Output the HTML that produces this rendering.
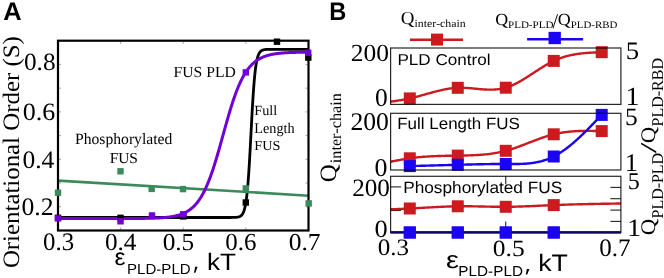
<!DOCTYPE html>
<html><head><meta charset="utf-8"><style>
html,body{margin:0;padding:0;background:#fff;}
svg{display:block;will-change:transform;}
text{font-kerning:none;text-rendering:geometricPrecision;}
</style></head><body>
<svg width="664" height="278" viewBox="0 0 664 278">
<rect width="664" height="278" fill="#fff"/>
<text transform="translate(3.37,19.60) scale(0.9963,1)" font-family='"Liberation Sans", sans-serif' font-size="25.582" font-weight="bold" fill="#000">A</text>
<text transform="translate(19.18,268.12) rotate(-90) scale(1.0536,1)" font-family='"Liberation Serif", serif' font-size="23.601" fill="#000">Orientational Order (S)</text>
<text transform="translate(23.94,69.55) scale(1.0229,1)" font-family='"Liberation Serif", serif' font-size="24.735" fill="#000">0.8</text>
<text transform="translate(22.81,119.55) scale(1.0471,1)" font-family='"Liberation Serif", serif' font-size="24.882" fill="#000">0.6</text>
<text transform="translate(22.43,168.34) scale(1.0160,1)" font-family='"Liberation Serif", serif' font-size="25.177" fill="#000">0.4</text>
<text transform="translate(21.52,214.64) scale(1.0198,1)" font-family='"Liberation Serif", serif' font-size="25.177" fill="#000">0.2</text>
<text transform="translate(43.05,250.34) scale(0.9889,1)" font-family='"Liberation Serif", serif' font-size="25.177" fill="#000">0.3</text>
<text transform="translate(104.94,250.15) scale(1.0267,1)" font-family='"Liberation Serif", serif' font-size="24.588" fill="#000">0.4</text>
<text transform="translate(162.64,250.16) scale(1.0424,1)" font-family='"Liberation Serif", serif' font-size="24.293" fill="#000">0.5</text>
<text transform="translate(225.25,250.15) scale(1.0149,1)" font-family='"Liberation Serif", serif' font-size="24.588" fill="#000">0.6</text>
<text transform="translate(288.63,250.16) scale(1.0507,1)" font-family='"Liberation Serif", serif' font-size="24.293" fill="#000">0.7</text>
<text transform="translate(114.56,265.07) scale(1.0493,1)" font-family='"Liberation Sans", sans-serif' font-size="23.547" fill="#000">ε</text>
<text transform="translate(127.06,274.20) scale(1.0369,1)" font-family='"Liberation Sans", sans-serif' font-size="14.535" fill="#000">PLD-PLD</text>
<polygon points="195.2,266.7 197.6,266.7 195.4,272.8 194.0,272.8" fill="#000"/>
<text transform="translate(206.94,269.80) scale(1.1022,1)" font-family='"Liberation Sans", sans-serif' font-size="23.737" fill="#000">kT</text>
<text transform="translate(173.55,76.85) scale(1.0125,1)" font-family='"Liberation Serif", serif' font-size="15.479" fill="#000">FUS PLD</text>
<text transform="translate(254.29,114.70) scale(1.0206,1)" font-family='"Liberation Serif", serif' font-size="13.980" fill="#000">Full</text>
<text transform="translate(254.29,132.90) scale(0.9584,1)" font-family='"Liberation Serif", serif' font-size="14.845" fill="#000">Length</text>
<text transform="translate(254.29,150.40) scale(1.0349,1)" font-family='"Liberation Serif", serif' font-size="13.744" fill="#000">FUS</text>
<text transform="translate(74.95,144.40) scale(0.9970,1)" font-family='"Liberation Serif", serif' font-size="15.710" fill="#000">Phosphorylated</text>
<text transform="translate(109.66,163.20) scale(1.0113,1)" font-family='"Liberation Serif", serif' font-size="15.254" fill="#000">FUS</text>
<line x1="120.63" y1="229.50" x2="120.63" y2="227.50" stroke="#888" stroke-width="0.80"/>
<line x1="120.63" y1="41.70" x2="120.63" y2="43.70" stroke="#888" stroke-width="0.80"/>
<line x1="183.25" y1="229.50" x2="183.25" y2="227.50" stroke="#888" stroke-width="0.80"/>
<line x1="183.25" y1="41.70" x2="183.25" y2="43.70" stroke="#888" stroke-width="0.80"/>
<line x1="245.87" y1="229.50" x2="245.87" y2="227.50" stroke="#888" stroke-width="0.80"/>
<line x1="245.87" y1="41.70" x2="245.87" y2="43.70" stroke="#888" stroke-width="0.80"/>
<line x1="59.00" y1="206.78" x2="61.00" y2="206.78" stroke="#888" stroke-width="0.80"/>
<line x1="307.50" y1="206.78" x2="305.50" y2="206.78" stroke="#888" stroke-width="0.80"/>
<line x1="59.00" y1="183.05" x2="61.00" y2="183.05" stroke="#888" stroke-width="0.80"/>
<line x1="307.50" y1="183.05" x2="305.50" y2="183.05" stroke="#888" stroke-width="0.80"/>
<line x1="59.00" y1="159.32" x2="61.00" y2="159.32" stroke="#888" stroke-width="0.80"/>
<line x1="307.50" y1="159.32" x2="305.50" y2="159.32" stroke="#888" stroke-width="0.80"/>
<line x1="59.00" y1="135.60" x2="61.00" y2="135.60" stroke="#888" stroke-width="0.80"/>
<line x1="307.50" y1="135.60" x2="305.50" y2="135.60" stroke="#888" stroke-width="0.80"/>
<line x1="59.00" y1="111.88" x2="61.00" y2="111.88" stroke="#888" stroke-width="0.80"/>
<line x1="307.50" y1="111.88" x2="305.50" y2="111.88" stroke="#888" stroke-width="0.80"/>
<line x1="59.00" y1="88.15" x2="61.00" y2="88.15" stroke="#888" stroke-width="0.80"/>
<line x1="307.50" y1="88.15" x2="305.50" y2="88.15" stroke="#888" stroke-width="0.80"/>
<line x1="59.00" y1="64.42" x2="61.00" y2="64.42" stroke="#888" stroke-width="0.80"/>
<line x1="307.50" y1="64.42" x2="305.50" y2="64.42" stroke="#888" stroke-width="0.80"/>
<path d="M58.00,217.50 L58.50,217.50 L59.00,217.50 L59.51,217.50 L60.01,217.50 L60.51,217.50 L61.01,217.50 L61.51,217.50 L62.02,217.50 L62.52,217.50 L63.02,217.50 L63.52,217.50 L64.02,217.50 L64.53,217.50 L65.03,217.50 L65.53,217.50 L66.03,217.50 L66.53,217.50 L67.04,217.50 L67.54,217.50 L68.04,217.50 L68.54,217.50 L69.04,217.50 L69.55,217.50 L70.05,217.50 L70.55,217.50 L71.05,217.50 L71.55,217.50 L72.06,217.50 L72.56,217.50 L73.06,217.50 L73.56,217.50 L74.06,217.50 L74.57,217.50 L75.07,217.50 L75.57,217.50 L76.07,217.50 L76.57,217.50 L77.08,217.50 L77.58,217.50 L78.08,217.50 L78.58,217.50 L79.08,217.50 L79.59,217.50 L80.09,217.50 L80.59,217.50 L81.09,217.50 L81.59,217.50 L82.10,217.50 L82.60,217.50 L83.10,217.50 L83.60,217.50 L84.10,217.50 L84.61,217.50 L85.11,217.50 L85.61,217.50 L86.11,217.50 L86.61,217.50 L87.12,217.50 L87.62,217.50 L88.12,217.50 L88.62,217.50 L89.12,217.50 L89.63,217.50 L90.13,217.50 L90.63,217.50 L91.13,217.50 L91.63,217.50 L92.14,217.50 L92.64,217.50 L93.14,217.50 L93.64,217.50 L94.14,217.50 L94.65,217.50 L95.15,217.50 L95.65,217.50 L96.15,217.50 L96.65,217.50 L97.16,217.50 L97.66,217.50 L98.16,217.50 L98.66,217.50 L99.16,217.50 L99.67,217.50 L100.17,217.50 L100.67,217.50 L101.17,217.50 L101.67,217.50 L102.18,217.50 L102.68,217.50 L103.18,217.50 L103.68,217.50 L104.18,217.50 L104.69,217.50 L105.19,217.50 L105.69,217.50 L106.19,217.50 L106.69,217.50 L107.20,217.50 L107.70,217.50 L108.20,217.50 L108.70,217.50 L109.20,217.50 L109.71,217.50 L110.21,217.50 L110.71,217.50 L111.21,217.50 L111.71,217.50 L112.22,217.50 L112.72,217.50 L113.22,217.50 L113.72,217.50 L114.22,217.50 L114.73,217.50 L115.23,217.50 L115.73,217.50 L116.23,217.50 L116.73,217.50 L117.24,217.50 L117.74,217.50 L118.24,217.50 L118.74,217.50 L119.24,217.50 L119.75,217.50 L120.25,217.50 L120.75,217.50 L121.25,217.50 L121.75,217.50 L122.26,217.50 L122.76,217.50 L123.26,217.50 L123.76,217.50 L124.26,217.50 L124.77,217.50 L125.27,217.50 L125.77,217.50 L126.27,217.50 L126.77,217.50 L127.28,217.50 L127.78,217.50 L128.28,217.50 L128.78,217.50 L129.28,217.50 L129.79,217.50 L130.29,217.50 L130.79,217.50 L131.29,217.50 L131.79,217.50 L132.30,217.50 L132.80,217.50 L133.30,217.50 L133.80,217.50 L134.30,217.50 L134.81,217.50 L135.31,217.50 L135.81,217.50 L136.31,217.50 L136.81,217.50 L137.32,217.50 L137.82,217.50 L138.32,217.50 L138.82,217.50 L139.32,217.50 L139.83,217.50 L140.33,217.50 L140.83,217.50 L141.33,217.50 L141.83,217.50 L142.34,217.50 L142.84,217.50 L143.34,217.50 L143.84,217.50 L144.34,217.50 L144.85,217.50 L145.35,217.50 L145.85,217.50 L146.35,217.50 L146.85,217.50 L147.36,217.50 L147.86,217.50 L148.36,217.50 L148.86,217.50 L149.36,217.50 L149.87,217.50 L150.37,217.50 L150.87,217.50 L151.37,217.50 L151.87,217.50 L152.38,217.50 L152.88,217.50 L153.38,217.50 L153.88,217.50 L154.38,217.50 L154.89,217.50 L155.39,217.50 L155.89,217.50 L156.39,217.50 L156.89,217.50 L157.40,217.50 L157.90,217.50 L158.40,217.50 L158.90,217.50 L159.40,217.50 L159.91,217.50 L160.41,217.50 L160.91,217.50 L161.41,217.50 L161.91,217.50 L162.42,217.50 L162.92,217.50 L163.42,217.50 L163.92,217.50 L164.42,217.50 L164.93,217.50 L165.43,217.50 L165.93,217.50 L166.43,217.50 L166.93,217.50 L167.44,217.50 L167.94,217.50 L168.44,217.50 L168.94,217.50 L169.44,217.50 L169.95,217.50 L170.45,217.50 L170.95,217.50 L171.45,217.50 L171.95,217.50 L172.46,217.50 L172.96,217.50 L173.46,217.50 L173.96,217.50 L174.46,217.50 L174.97,217.50 L175.47,217.50 L175.97,217.50 L176.47,217.50 L176.97,217.50 L177.48,217.50 L177.98,217.50 L178.48,217.50 L178.98,217.50 L179.48,217.50 L179.99,217.50 L180.49,217.50 L180.99,217.50 L181.49,217.50 L181.99,217.50 L182.50,217.50 L183.00,217.50 L183.50,217.50 L184.00,217.50 L184.51,217.50 L185.01,217.50 L185.51,217.50 L186.01,217.50 L186.51,217.50 L187.02,217.50 L187.52,217.50 L188.02,217.50 L188.52,217.50 L189.02,217.50 L189.53,217.50 L190.03,217.50 L190.53,217.50 L191.03,217.50 L191.53,217.50 L192.04,217.50 L192.54,217.50 L193.04,217.50 L193.54,217.50 L194.04,217.50 L194.55,217.50 L195.05,217.50 L195.55,217.50 L196.05,217.50 L196.55,217.50 L197.06,217.50 L197.56,217.50 L198.06,217.50 L198.56,217.50 L199.06,217.50 L199.57,217.50 L200.07,217.50 L200.57,217.50 L201.07,217.50 L201.57,217.50 L202.08,217.50 L202.58,217.50 L203.08,217.50 L203.58,217.50 L204.08,217.50 L204.59,217.50 L205.09,217.50 L205.59,217.50 L206.09,217.50 L206.59,217.50 L207.10,217.50 L207.60,217.50 L208.10,217.50 L208.60,217.50 L209.10,217.50 L209.61,217.50 L210.11,217.50 L210.61,217.50 L211.11,217.50 L211.61,217.50 L212.12,217.50 L212.62,217.50 L213.12,217.50 L213.62,217.50 L214.12,217.50 L214.63,217.50 L215.13,217.50 L215.63,217.50 L216.13,217.50 L216.63,217.50 L217.14,217.50 L217.64,217.50 L218.14,217.50 L218.64,217.50 L219.14,217.50 L219.65,217.50 L220.15,217.50 L220.65,217.50 L221.15,217.50 L221.65,217.50 L222.16,217.50 L222.66,217.50 L223.16,217.50 L223.66,217.50 L224.16,217.50 L224.67,217.50 L225.17,217.50 L225.67,217.50 L226.17,217.50 L226.67,217.50 L227.18,217.50 L227.68,217.50 L228.18,217.49 L228.68,217.49 L229.18,217.49 L229.69,217.49 L230.19,217.49 L230.69,217.48 L231.19,217.48 L231.69,217.47 L232.20,217.47 L232.70,217.46 L233.20,217.45 L233.70,217.44 L234.20,217.42 L234.71,217.40 L235.21,217.37 L235.71,217.34 L236.21,217.30 L236.71,217.25 L237.22,217.18 L237.72,217.10 L238.22,217.00 L238.72,216.87 L239.22,216.71 L239.73,216.51 L240.23,216.25 L240.73,215.94 L241.23,215.54 L241.73,215.04 L242.24,214.43 L242.74,213.66 L243.24,212.70 L243.74,211.51 L244.24,210.05 L244.75,208.24 L245.25,206.03 L245.75,203.34 L246.25,200.08 L246.75,196.18 L247.26,191.56 L247.76,186.15 L248.26,179.92 L248.76,172.84 L249.26,164.97 L249.77,156.39 L250.27,147.27 L250.77,137.80 L251.27,128.22 L251.77,118.77 L252.28,109.68 L252.78,101.16 L253.28,93.35 L253.78,86.34 L254.28,80.17 L254.79,74.83 L255.29,70.27 L255.79,66.43 L256.29,63.22 L256.79,60.57 L257.30,58.40 L257.80,56.62 L258.30,55.18 L258.80,54.01 L259.30,53.07 L259.81,52.32 L260.31,51.71 L260.81,51.22 L261.31,50.84 L261.81,50.52 L262.32,50.28 L262.82,50.08 L263.32,49.92 L263.82,49.79 L264.32,49.69 L264.83,49.61 L265.33,49.55 L265.83,49.50 L266.33,49.46 L266.83,49.43 L267.34,49.40 L267.84,49.38 L268.34,49.36 L268.84,49.35 L269.34,49.34 L269.85,49.33 L270.35,49.33 L270.85,49.32 L271.35,49.32 L271.85,49.31 L272.36,49.31 L272.86,49.31 L273.36,49.31 L273.86,49.31 L274.36,49.30 L274.87,49.30 L275.37,49.30 L275.87,49.30 L276.37,49.30 L276.87,49.30 L277.38,49.30 L277.88,49.30 L278.38,49.30 L278.88,49.30 L279.38,49.30 L279.89,49.30 L280.39,49.30 L280.89,49.30 L281.39,49.30 L281.89,49.30 L282.40,49.30 L282.90,49.30 L283.40,49.30 L283.90,49.30 L284.40,49.30 L284.91,49.30 L285.41,49.30 L285.91,49.30 L286.41,49.30 L286.91,49.30 L287.42,49.30 L287.92,49.30 L288.42,49.30 L288.92,49.30 L289.42,49.30 L289.93,49.30 L290.43,49.30 L290.93,49.30 L291.43,49.30 L291.93,49.30 L292.44,49.30 L292.94,49.30 L293.44,49.30 L293.94,49.30 L294.44,49.30 L294.95,49.30 L295.45,49.30 L295.95,49.30 L296.45,49.30 L296.95,49.30 L297.46,49.30 L297.96,49.30 L298.46,49.30 L298.96,49.30 L299.46,49.30 L299.97,49.30 L300.47,49.30 L300.97,49.30 L301.47,49.30 L301.97,49.30 L302.48,49.30 L302.98,49.30 L303.48,49.30 L303.98,49.30 L304.48,49.30 L304.99,49.30 L305.49,49.30 L305.99,49.30 L306.49,49.30 L306.99,49.30 L307.50,49.30 L308.00,49.30 L308.50,49.30" fill="none" stroke="#000" stroke-width="2.80" stroke-linejoin="round" stroke-linecap="butt"/>
<path d="M58.00,180.60 L308.50,195.70" fill="none" stroke="#3b8a5a" stroke-width="2.60" stroke-linejoin="round" stroke-linecap="butt"/>
<path d="M58.00,218.57 L58.50,218.57 L59.00,218.57 L59.51,218.57 L60.01,218.57 L60.51,218.57 L61.01,218.57 L61.51,218.57 L62.02,218.57 L62.52,218.57 L63.02,218.57 L63.52,218.57 L64.02,218.57 L64.53,218.57 L65.03,218.57 L65.53,218.57 L66.03,218.57 L66.53,218.57 L67.04,218.57 L67.54,218.57 L68.04,218.57 L68.54,218.57 L69.04,218.57 L69.55,218.57 L70.05,218.57 L70.55,218.57 L71.05,218.57 L71.55,218.57 L72.06,218.57 L72.56,218.57 L73.06,218.57 L73.56,218.57 L74.06,218.57 L74.57,218.57 L75.07,218.57 L75.57,218.57 L76.07,218.57 L76.57,218.57 L77.08,218.57 L77.58,218.57 L78.08,218.57 L78.58,218.57 L79.08,218.57 L79.59,218.57 L80.09,218.57 L80.59,218.57 L81.09,218.57 L81.59,218.57 L82.10,218.57 L82.60,218.57 L83.10,218.57 L83.60,218.57 L84.10,218.57 L84.61,218.57 L85.11,218.57 L85.61,218.57 L86.11,218.57 L86.61,218.57 L87.12,218.57 L87.62,218.57 L88.12,218.57 L88.62,218.57 L89.12,218.57 L89.63,218.57 L90.13,218.57 L90.63,218.57 L91.13,218.57 L91.63,218.57 L92.14,218.57 L92.64,218.57 L93.14,218.57 L93.64,218.57 L94.14,218.57 L94.65,218.57 L95.15,218.57 L95.65,218.57 L96.15,218.57 L96.65,218.57 L97.16,218.57 L97.66,218.57 L98.16,218.57 L98.66,218.57 L99.16,218.57 L99.67,218.57 L100.17,218.57 L100.67,218.57 L101.17,218.57 L101.67,218.57 L102.18,218.57 L102.68,218.57 L103.18,218.56 L103.68,218.56 L104.18,218.56 L104.69,218.56 L105.19,218.56 L105.69,218.56 L106.19,218.56 L106.69,218.56 L107.20,218.56 L107.70,218.56 L108.20,218.56 L108.70,218.56 L109.20,218.56 L109.71,218.56 L110.21,218.56 L110.71,218.56 L111.21,218.56 L111.71,218.56 L112.22,218.56 L112.72,218.56 L113.22,218.56 L113.72,218.56 L114.22,218.56 L114.73,218.56 L115.23,218.56 L115.73,218.56 L116.23,218.55 L116.73,218.55 L117.24,218.55 L117.74,218.55 L118.24,218.55 L118.74,218.55 L119.24,218.55 L119.75,218.55 L120.25,218.55 L120.75,218.55 L121.25,218.55 L121.75,218.54 L122.26,218.54 L122.76,218.54 L123.26,218.54 L123.76,218.54 L124.26,218.54 L124.77,218.54 L125.27,218.54 L125.77,218.53 L126.27,218.53 L126.77,218.53 L127.28,218.53 L127.78,218.53 L128.28,218.53 L128.78,218.52 L129.28,218.52 L129.79,218.52 L130.29,218.52 L130.79,218.51 L131.29,218.51 L131.79,218.51 L132.30,218.51 L132.80,218.50 L133.30,218.50 L133.80,218.50 L134.30,218.49 L134.81,218.49 L135.31,218.49 L135.81,218.48 L136.31,218.48 L136.81,218.48 L137.32,218.47 L137.82,218.47 L138.32,218.46 L138.82,218.46 L139.32,218.45 L139.83,218.45 L140.33,218.44 L140.83,218.44 L141.33,218.43 L141.83,218.43 L142.34,218.42 L142.84,218.41 L143.34,218.41 L143.84,218.40 L144.34,218.39 L144.85,218.38 L145.35,218.37 L145.85,218.37 L146.35,218.36 L146.85,218.35 L147.36,218.34 L147.86,218.33 L148.36,218.32 L148.86,218.30 L149.36,218.29 L149.87,218.28 L150.37,218.27 L150.87,218.25 L151.37,218.24 L151.87,218.22 L152.38,218.21 L152.88,218.19 L153.38,218.18 L153.88,218.16 L154.38,218.14 L154.89,218.12 L155.39,218.10 L155.89,218.08 L156.39,218.06 L156.89,218.04 L157.40,218.01 L157.90,217.99 L158.40,217.96 L158.90,217.94 L159.40,217.91 L159.91,217.88 L160.41,217.85 L160.91,217.82 L161.41,217.78 L161.91,217.75 L162.42,217.71 L162.92,217.67 L163.42,217.63 L163.92,217.59 L164.42,217.55 L164.93,217.50 L165.43,217.45 L165.93,217.41 L166.43,217.35 L166.93,217.30 L167.44,217.24 L167.94,217.19 L168.44,217.12 L168.94,217.06 L169.44,216.99 L169.95,216.92 L170.45,216.85 L170.95,216.78 L171.45,216.70 L171.95,216.61 L172.46,216.53 L172.96,216.44 L173.46,216.34 L173.96,216.25 L174.46,216.14 L174.97,216.04 L175.47,215.93 L175.97,215.81 L176.47,215.69 L176.97,215.56 L177.48,215.43 L177.98,215.30 L178.48,215.15 L178.98,215.00 L179.48,214.85 L179.99,214.69 L180.49,214.52 L180.99,214.34 L181.49,214.16 L181.99,213.97 L182.50,213.77 L183.00,213.56 L183.50,213.34 L184.00,213.12 L184.51,212.88 L185.01,212.64 L185.51,212.38 L186.01,212.12 L186.51,211.84 L187.02,211.55 L187.52,211.26 L188.02,210.94 L188.52,210.62 L189.02,210.28 L189.53,209.93 L190.03,209.57 L190.53,209.19 L191.03,208.80 L191.53,208.39 L192.04,207.96 L192.54,207.52 L193.04,207.06 L193.54,206.59 L194.04,206.09 L194.55,205.58 L195.05,205.05 L195.55,204.50 L196.05,203.92 L196.55,203.33 L197.06,202.72 L197.56,202.08 L198.06,201.42 L198.56,200.74 L199.06,200.03 L199.57,199.30 L200.07,198.54 L200.57,197.76 L201.07,196.96 L201.57,196.12 L202.08,195.26 L202.58,194.37 L203.08,193.46 L203.58,192.51 L204.08,191.54 L204.59,190.54 L205.09,189.51 L205.59,188.45 L206.09,187.35 L206.59,186.23 L207.10,185.08 L207.60,183.90 L208.10,182.69 L208.60,181.44 L209.10,180.17 L209.61,178.87 L210.11,177.53 L210.61,176.17 L211.11,174.78 L211.61,173.35 L212.12,171.90 L212.62,170.42 L213.12,168.92 L213.62,167.39 L214.12,165.83 L214.63,164.24 L215.13,162.63 L215.63,161.00 L216.13,159.35 L216.63,157.67 L217.14,155.98 L217.64,154.27 L218.14,152.54 L218.64,150.79 L219.14,149.03 L219.65,147.26 L220.15,145.48 L220.65,143.68 L221.15,141.88 L221.65,140.08 L222.16,138.27 L222.66,136.45 L223.16,134.64 L223.66,132.82 L224.16,131.01 L224.67,129.20 L225.17,127.40 L225.67,125.60 L226.17,123.82 L226.67,122.04 L227.18,120.28 L227.68,118.53 L228.18,116.80 L228.68,115.08 L229.18,113.38 L229.69,111.70 L230.19,110.04 L230.69,108.40 L231.19,106.79 L231.69,105.20 L232.20,103.64 L232.70,102.10 L233.20,100.58 L233.70,99.10 L234.20,97.64 L234.71,96.21 L235.21,94.81 L235.71,93.44 L236.21,92.10 L236.71,90.79 L237.22,89.51 L237.72,88.26 L238.22,87.04 L238.72,85.85 L239.22,84.69 L239.73,83.56 L240.23,82.46 L240.73,81.39 L241.23,80.35 L241.73,79.34 L242.24,78.36 L242.74,77.41 L243.24,76.49 L243.74,75.59 L244.24,74.73 L244.75,73.89 L245.25,73.07 L245.75,72.29 L246.25,71.52 L246.75,70.79 L247.26,70.07 L247.76,69.39 L248.26,68.72 L248.76,68.08 L249.26,67.46 L249.77,66.86 L250.27,66.28 L250.77,65.73 L251.27,65.19 L251.77,64.67 L252.28,64.17 L252.78,63.69 L253.28,63.23 L253.78,62.78 L254.28,62.35 L254.79,61.94 L255.29,61.54 L255.79,61.16 L256.29,60.79 L256.79,60.44 L257.30,60.10 L257.80,59.77 L258.30,59.46 L258.80,59.16 L259.30,58.87 L259.81,58.59 L260.31,58.32 L260.81,58.06 L261.31,57.82 L261.81,57.58 L262.32,57.35 L262.82,57.13 L263.32,56.92 L263.82,56.72 L264.32,56.53 L264.83,56.34 L265.33,56.17 L265.83,56.00 L266.33,55.83 L266.83,55.67 L267.34,55.52 L267.84,55.38 L268.34,55.24 L268.84,55.11 L269.34,54.98 L269.85,54.86 L270.35,54.74 L270.85,54.63 L271.35,54.52 L271.85,54.42 L272.36,54.32 L272.86,54.22 L273.36,54.13 L273.86,54.05 L274.36,53.96 L274.87,53.88 L275.37,53.81 L275.87,53.73 L276.37,53.66 L276.87,53.60 L277.38,53.53 L277.88,53.47 L278.38,53.41 L278.88,53.35 L279.38,53.30 L279.89,53.25 L280.39,53.20 L280.89,53.15 L281.39,53.10 L281.89,53.06 L282.40,53.02 L282.90,52.98 L283.40,52.94 L283.90,52.90 L284.40,52.87 L284.91,52.83 L285.41,52.80 L285.91,52.77 L286.41,52.74 L286.91,52.71 L287.42,52.68 L287.92,52.66 L288.42,52.63 L288.92,52.61 L289.42,52.59 L289.93,52.56 L290.43,52.54 L290.93,52.52 L291.43,52.50 L291.93,52.49 L292.44,52.47 L292.94,52.45 L293.44,52.43 L293.94,52.42 L294.44,52.40 L294.95,52.39 L295.45,52.38 L295.95,52.36 L296.45,52.35 L296.95,52.34 L297.46,52.33 L297.96,52.32 L298.46,52.31 L298.96,52.30 L299.46,52.29 L299.97,52.28 L300.47,52.27 L300.97,52.26 L301.47,52.25 L301.97,52.24 L302.48,52.24 L302.98,52.23 L303.48,52.22 L303.98,52.22 L304.48,52.21 L304.99,52.20 L305.49,52.20 L305.99,52.19 L306.49,52.19 L306.99,52.18 L307.50,52.18 L308.00,52.17 L308.50,52.17" fill="none" stroke="#7000d6" stroke-width="3.00" stroke-linejoin="round" stroke-linecap="butt"/>
<rect x="58.00" y="40.70" width="250.50" height="189.80" fill="none" stroke="#000" stroke-width="2.2"/>
<rect x="54.80" y="214.60" width="6.40" height="6.40" fill="#000"/>
<rect x="117.30" y="214.65" width="6.40" height="6.40" fill="#000"/>
<rect x="180.20" y="213.20" width="6.40" height="6.40" fill="#000"/>
<rect x="242.60" y="199.30" width="6.40" height="6.40" fill="#000"/>
<rect x="273.80" y="38.50" width="6.40" height="6.40" fill="#000"/>
<rect x="305.10" y="54.40" width="6.40" height="6.40" fill="#000"/>
<rect x="54.80" y="215.20" width="6.40" height="6.40" fill="#7000d6"/>
<rect x="117.30" y="218.10" width="6.40" height="6.40" fill="#7000d6"/>
<rect x="148.80" y="212.30" width="6.40" height="6.40" fill="#7000d6"/>
<rect x="180.00" y="211.10" width="6.40" height="6.40" fill="#7000d6"/>
<rect x="242.60" y="69.20" width="6.40" height="6.40" fill="#7000d6"/>
<rect x="305.00" y="49.60" width="6.40" height="6.40" fill="#7000d6"/>
<rect x="54.80" y="189.50" width="6.40" height="6.40" fill="#3b8a5a"/>
<rect x="117.30" y="168.10" width="6.40" height="6.40" fill="#3b8a5a"/>
<rect x="148.50" y="185.70" width="6.40" height="6.40" fill="#3b8a5a"/>
<rect x="179.80" y="185.90" width="6.40" height="6.40" fill="#3b8a5a"/>
<rect x="242.60" y="185.20" width="6.40" height="6.40" fill="#3b8a5a"/>
<rect x="305.50" y="200.20" width="6.40" height="6.40" fill="#3b8a5a"/>
<text transform="translate(329.22,19.60) scale(0.9230,1)" font-family='"Liberation Sans", sans-serif' font-size="25.582" font-weight="bold" fill="#000">B</text>
<text transform="translate(400.72,23.93) scale(1.0357,1)" font-family='"Liberation Serif", serif' font-size="18.320" fill="#000">Q</text>
<text transform="translate(414.55,26.89) scale(1.0787,1)" font-family='"Liberation Serif", serif' font-size="10.944" fill="#000">inter-chain</text>
<line x1="409.90" y1="39.70" x2="463.00" y2="39.70" stroke="#cc1a1f" stroke-width="2.40"/>
<rect x="431.00" y="33.60" width="12.00" height="12.00" fill="#cc1a1f"/>
<text transform="translate(495.16,24.97) scale(1.0626,1)" font-family='"Liberation Serif", serif' font-size="16.864" fill="#000">Q</text>
<text transform="translate(507.98,28.18) scale(1.1197,1)" font-family='"Liberation Serif", serif' font-size="9.897" fill="#000">PLD-PLD</text>
<text transform="translate(552.60,28.00) scale(0.9459,1)" font-family='"Liberation Serif", serif' font-size="20.928" fill="#000">/</text>
<text transform="translate(557.87,24.97) scale(1.0626,1)" font-family='"Liberation Serif", serif' font-size="16.864" fill="#000">Q</text>
<text transform="translate(570.69,28.17) scale(1.1033,1)" font-family='"Liberation Serif", serif' font-size="9.883" fill="#000">PLD-RBD</text>
<line x1="527.10" y1="39.30" x2="583.10" y2="39.30" stroke="#1a04f3" stroke-width="2.40"/>
<rect x="548.55" y="31.85" width="12.30" height="12.30" fill="#1a04f3"/>
<line x1="390.60" y1="186.90" x2="401.10" y2="186.90" stroke="#222" stroke-width="1.10"/>
<line x1="390.60" y1="210.50" x2="401.10" y2="210.50" stroke="#222" stroke-width="1.10"/>
<line x1="610.40" y1="187.40" x2="620.90" y2="187.40" stroke="#222" stroke-width="1.10"/>
<line x1="610.40" y1="198.70" x2="620.90" y2="198.70" stroke="#222" stroke-width="1.10"/>
<line x1="610.40" y1="210.10" x2="620.90" y2="210.10" stroke="#222" stroke-width="1.10"/>
<line x1="610.40" y1="221.40" x2="620.90" y2="221.40" stroke="#222" stroke-width="1.10"/>
<line x1="505.75" y1="176.30" x2="505.75" y2="184.30" stroke="#222" stroke-width="1.10"/>
<line x1="505.75" y1="232.00" x2="505.75" y2="221.50" stroke="#222" stroke-width="1.10"/>
<text transform="translate(350.78,60.76) scale(1.0349,1)" font-family='"Liberation Serif", serif' font-size="24.600" fill="#000">200</text>
<text transform="translate(375.03,106.45) scale(0.9997,1)" font-family='"Liberation Serif", serif' font-size="25.489" fill="#000">0</text>
<text transform="translate(350.47,130.45) scale(1.0071,1)" font-family='"Liberation Serif", serif' font-size="25.489" fill="#000">200</text>
<text transform="translate(374.41,176.15) scale(1.0124,1)" font-family='"Liberation Serif", serif' font-size="25.637" fill="#000">0</text>
<text transform="translate(352.19,196.46) scale(1.0113,1)" font-family='"Liberation Serif", serif' font-size="24.896" fill="#000">200</text>
<text transform="translate(374.39,237.16) scale(1.0678,1)" font-family='"Liberation Serif", serif' font-size="24.748" fill="#000">0</text>
<text transform="translate(625.74,59.45) scale(1.0669,1)" font-family='"Liberation Serif", serif' font-size="25.130" fill="#000">5</text>
<text transform="translate(625.45,105.20) scale(1.0622,1)" font-family='"Liberation Serif", serif' font-size="26.206" fill="#000">1</text>
<text transform="translate(625.01,124.96) scale(1.0298,1)" font-family='"Liberation Serif", serif' font-size="24.829" fill="#000">5</text>
<text transform="translate(624.78,170.70) scale(1.0380,1)" font-family='"Liberation Serif", serif' font-size="25.449" fill="#000">1</text>
<text transform="translate(627.70,189.46) scale(0.9939,1)" font-family='"Liberation Serif", serif' font-size="24.227" fill="#000">5</text>
<text transform="translate(627.28,235.70) scale(1.1091,1)" font-family='"Liberation Serif", serif' font-size="24.843" fill="#000">1</text>
<text transform="translate(377.65,255.47) scale(1.0641,1)" font-family='"Liberation Serif", serif' font-size="23.557" fill="#000">0.3</text>
<text transform="translate(492.83,255.77) scale(1.0959,1)" font-family='"Liberation Serif", serif' font-size="23.263" fill="#000">0.5</text>
<text transform="translate(599.15,256.14) scale(0.9880,1)" font-family='"Liberation Serif", serif' font-size="25.324" fill="#000">0.7</text>
<text transform="translate(446.01,268.06) scale(1.1962,1)" font-family='"Liberation Sans", sans-serif' font-size="24.277" fill="#000">ε</text>
<text transform="translate(458.34,276.10) scale(1.0644,1)" font-family='"Liberation Sans", sans-serif' font-size="14.390" fill="#000">PLD-PLD</text>
<polygon points="526.9,268.9 529.4,268.9 527.2,274.4 525.8,274.4" fill="#000"/>
<text transform="translate(538.20,271.40) scale(1.1205,1)" font-family='"Liberation Sans", sans-serif' font-size="23.875" fill="#000">kT</text>
<text transform="translate(335.90,182.32) rotate(-90) scale(1.0611,1)" font-family='"Liberation Serif", serif' font-size="23.416" fill="#000">Q</text>
<text transform="translate(341.44,163.14) rotate(-90) scale(1.0047,1)" font-family='"Liberation Serif", serif' font-size="16.060" fill="#000">inter-chain</text>
<text transform="translate(654.54,235.14) rotate(-90) scale(1.1033,1)" font-family='"Liberation Serif", serif' font-size="20.747" fill="#000">Q</text>
<text transform="translate(663.17,218.46) rotate(-90) scale(0.9702,1)" font-family='"Liberation Serif", serif' font-size="16.445" fill="#000">PLD-PLD</text>
<text transform="translate(656.48,153.20) rotate(-90) scale(1.7221,1)" font-family='"Liberation Serif", serif' font-size="22.573" fill="#000">/</text>
<text transform="translate(654.54,143.33) rotate(-90) scale(1.0960,1)" font-family='"Liberation Serif", serif' font-size="20.747" fill="#000">Q</text>
<text transform="translate(663.15,126.46) rotate(-90) scale(0.9751,1)" font-family='"Liberation Serif", serif' font-size="16.420" fill="#000">PLD-RBD</text>
<text transform="translate(397.40,64.80) scale(1.0870,1)" font-family='"Liberation Sans", sans-serif' font-size="15.733" fill="#000">PLD Control</text>
<text transform="translate(397.21,128.80) scale(1.0434,1)" font-family='"Liberation Sans", sans-serif' font-size="16.285" fill="#000">Full Length FUS</text>
<text transform="translate(403.18,192.70) scale(1.0506,1)" font-family='"Liberation Sans", sans-serif' font-size="16.423" fill="#000">Phosphorylated FUS</text>
<path d="M390.60,101.70 L391.66,101.54 L392.72,101.39 L393.78,101.23 L394.84,101.07 L395.90,100.91 L396.97,100.74 L398.03,100.58 L399.09,100.41 L400.15,100.23 L401.21,100.06 L402.27,99.87 L403.33,99.68 L404.39,99.49 L405.45,99.29 L406.51,99.08 L407.57,98.87 L408.63,98.65 L409.70,98.42 L410.76,98.18 L411.82,97.94 L412.88,97.69 L413.94,97.43 L415.00,97.16 L416.06,96.89 L417.12,96.61 L418.18,96.33 L419.24,96.04 L420.30,95.75 L421.36,95.46 L422.43,95.16 L423.49,94.87 L424.55,94.57 L425.61,94.27 L426.67,93.97 L427.73,93.68 L428.79,93.38 L429.85,93.08 L430.91,92.79 L431.97,92.50 L433.03,92.21 L434.09,91.93 L435.16,91.65 L436.22,91.37 L437.28,91.11 L438.34,90.84 L439.40,90.59 L440.46,90.34 L441.52,90.10 L442.58,89.87 L443.64,89.64 L444.70,89.43 L445.76,89.23 L446.82,89.03 L447.89,88.85 L448.95,88.68 L450.01,88.52 L451.07,88.38 L452.13,88.25 L453.19,88.13 L454.25,88.03 L455.31,87.94 L456.37,87.87 L457.43,87.81 L458.49,87.78 L459.55,87.75 L460.62,87.75 L461.68,87.76 L462.74,87.78 L463.80,87.81 L464.86,87.85 L465.92,87.91 L466.98,87.97 L468.04,88.05 L469.10,88.13 L470.16,88.21 L471.22,88.30 L472.29,88.40 L473.35,88.50 L474.41,88.60 L475.47,88.70 L476.53,88.80 L477.59,88.90 L478.65,89.00 L479.71,89.10 L480.77,89.19 L481.83,89.28 L482.89,89.36 L483.95,89.43 L485.02,89.50 L486.08,89.55 L487.14,89.60 L488.20,89.64 L489.26,89.66 L490.32,89.67 L491.38,89.67 L492.44,89.65 L493.50,89.61 L494.56,89.56 L495.62,89.49 L496.68,89.40 L497.75,89.29 L498.81,89.16 L499.87,89.00 L500.93,88.83 L501.99,88.63 L503.05,88.40 L504.11,88.15 L505.17,87.86 L506.23,87.56 L507.29,87.22 L508.35,86.85 L509.41,86.46 L510.48,86.05 L511.54,85.61 L512.60,85.14 L513.66,84.66 L514.72,84.15 L515.78,83.62 L516.84,83.08 L517.90,82.52 L518.96,81.94 L520.02,81.35 L521.08,80.74 L522.14,80.12 L523.21,79.48 L524.27,78.84 L525.33,78.18 L526.39,77.52 L527.45,76.85 L528.51,76.17 L529.57,75.49 L530.63,74.80 L531.69,74.11 L532.75,73.42 L533.81,72.73 L534.88,72.03 L535.94,71.34 L537.00,70.65 L538.06,69.96 L539.12,69.28 L540.18,68.60 L541.24,67.93 L542.30,67.27 L543.36,66.61 L544.42,65.97 L545.48,65.33 L546.54,64.71 L547.61,64.10 L548.67,63.51 L549.73,62.93 L550.79,62.37 L551.85,61.82 L552.91,61.29 L553.97,60.79 L555.03,60.30 L556.09,59.83 L557.15,59.39 L558.21,58.96 L559.27,58.55 L560.34,58.16 L561.40,57.78 L562.46,57.42 L563.52,57.08 L564.58,56.76 L565.64,56.45 L566.70,56.16 L567.76,55.88 L568.82,55.62 L569.88,55.37 L570.94,55.14 L572.00,54.92 L573.07,54.71 L574.13,54.51 L575.19,54.32 L576.25,54.15 L577.31,53.99 L578.37,53.83 L579.43,53.69 L580.49,53.56 L581.55,53.43 L582.61,53.32 L583.67,53.21 L584.73,53.11 L585.80,53.02 L586.86,52.94 L587.92,52.86 L588.98,52.78 L590.04,52.72 L591.10,52.65 L592.16,52.59 L593.22,52.54 L594.28,52.49 L595.34,52.44 L596.40,52.40 L597.46,52.36 L598.53,52.32 L599.59,52.28 L600.65,52.24 L601.71,52.20" fill="none" stroke="#cc1a1f" stroke-width="2.40" stroke-linejoin="round" stroke-linecap="butt"/>
<rect x="403.79" y="92.40" width="12.00" height="12.00" fill="#cc1a1f"/>
<rect x="451.77" y="81.80" width="12.00" height="12.00" fill="#cc1a1f"/>
<rect x="499.75" y="81.70" width="12.00" height="12.00" fill="#cc1a1f"/>
<rect x="547.73" y="54.90" width="12.00" height="12.00" fill="#cc1a1f"/>
<rect x="595.71" y="46.20" width="12.00" height="12.00" fill="#cc1a1f"/>
<path d="M390.60,161.70 L391.66,161.49 L392.72,161.29 L393.78,161.08 L394.84,160.88 L395.90,160.67 L396.97,160.47 L398.03,160.27 L399.09,160.08 L400.15,159.88 L401.21,159.69 L402.27,159.50 L403.33,159.32 L404.39,159.14 L405.45,158.97 L406.51,158.79 L407.57,158.63 L408.63,158.47 L409.70,158.31 L410.76,158.17 L411.82,158.02 L412.88,157.89 L413.94,157.76 L415.00,157.63 L416.06,157.51 L417.12,157.40 L418.18,157.29 L419.24,157.18 L420.30,157.08 L421.36,156.99 L422.43,156.90 L423.49,156.81 L424.55,156.73 L425.61,156.65 L426.67,156.58 L427.73,156.51 L428.79,156.45 L429.85,156.38 L430.91,156.33 L431.97,156.27 L433.03,156.22 L434.09,156.17 L435.16,156.13 L436.22,156.08 L437.28,156.04 L438.34,156.01 L439.40,155.97 L440.46,155.94 L441.52,155.91 L442.58,155.88 L443.64,155.85 L444.70,155.83 L445.76,155.80 L446.82,155.78 L447.89,155.76 L448.95,155.74 L450.01,155.72 L451.07,155.70 L452.13,155.68 L453.19,155.67 L454.25,155.65 L455.31,155.64 L456.37,155.62 L457.43,155.60 L458.49,155.59 L459.55,155.57 L460.62,155.56 L461.68,155.54 L462.74,155.52 L463.80,155.50 L464.86,155.48 L465.92,155.46 L466.98,155.43 L468.04,155.40 L469.10,155.37 L470.16,155.34 L471.22,155.30 L472.29,155.26 L473.35,155.22 L474.41,155.17 L475.47,155.12 L476.53,155.06 L477.59,155.00 L478.65,154.94 L479.71,154.87 L480.77,154.79 L481.83,154.71 L482.89,154.62 L483.95,154.53 L485.02,154.43 L486.08,154.32 L487.14,154.21 L488.20,154.09 L489.26,153.96 L490.32,153.82 L491.38,153.68 L492.44,153.52 L493.50,153.36 L494.56,153.19 L495.62,153.01 L496.68,152.82 L497.75,152.63 L498.81,152.42 L499.87,152.20 L500.93,151.97 L501.99,151.73 L503.05,151.49 L504.11,151.22 L505.17,150.95 L506.23,150.67 L507.29,150.38 L508.35,150.07 L509.41,149.75 L510.48,149.43 L511.54,149.09 L512.60,148.75 L513.66,148.40 L514.72,148.04 L515.78,147.67 L516.84,147.30 L517.90,146.92 L518.96,146.53 L520.02,146.14 L521.08,145.75 L522.14,145.35 L523.21,144.94 L524.27,144.54 L525.33,144.13 L526.39,143.72 L527.45,143.31 L528.51,142.90 L529.57,142.49 L530.63,142.08 L531.69,141.67 L532.75,141.26 L533.81,140.86 L534.88,140.45 L535.94,140.05 L537.00,139.66 L538.06,139.26 L539.12,138.88 L540.18,138.49 L541.24,138.12 L542.30,137.75 L543.36,137.38 L544.42,137.03 L545.48,136.68 L546.54,136.34 L547.61,136.01 L548.67,135.68 L549.73,135.37 L550.79,135.07 L551.85,134.78 L552.91,134.51 L553.97,134.24 L555.03,133.99 L556.09,133.75 L557.15,133.52 L558.21,133.30 L559.27,133.10 L560.34,132.90 L561.40,132.72 L562.46,132.55 L563.52,132.39 L564.58,132.23 L565.64,132.09 L566.70,131.96 L567.76,131.84 L568.82,131.72 L569.88,131.62 L570.94,131.52 L572.00,131.43 L573.07,131.35 L574.13,131.28 L575.19,131.21 L576.25,131.15 L577.31,131.10 L578.37,131.05 L579.43,131.01 L580.49,130.98 L581.55,130.95 L582.61,130.93 L583.67,130.91 L584.73,130.89 L585.80,130.89 L586.86,130.88 L587.92,130.88 L588.98,130.88 L590.04,130.89 L591.10,130.90 L592.16,130.91 L593.22,130.93 L594.28,130.94 L595.34,130.96 L596.40,130.98 L597.46,131.00 L598.53,131.03 L599.59,131.05 L600.65,131.08 L601.71,131.10" fill="none" stroke="#cc1a1f" stroke-width="2.40" stroke-linejoin="round" stroke-linecap="butt"/>
<rect x="403.79" y="152.30" width="12.00" height="12.00" fill="#cc1a1f"/>
<rect x="451.77" y="149.60" width="12.00" height="12.00" fill="#cc1a1f"/>
<rect x="499.75" y="144.80" width="12.00" height="12.00" fill="#cc1a1f"/>
<rect x="547.73" y="128.30" width="12.00" height="12.00" fill="#cc1a1f"/>
<rect x="595.71" y="125.10" width="12.00" height="12.00" fill="#cc1a1f"/>
<path d="M409.79,166.10 L410.76,166.07 L411.72,166.05 L412.68,166.02 L413.65,166.00 L414.61,165.97 L415.58,165.94 L416.54,165.92 L417.51,165.89 L418.47,165.86 L419.44,165.84 L420.40,165.81 L421.36,165.79 L422.33,165.76 L423.29,165.73 L424.26,165.71 L425.22,165.68 L426.19,165.65 L427.15,165.63 L428.12,165.60 L429.08,165.58 L430.04,165.55 L431.01,165.52 L431.97,165.50 L432.94,165.47 L433.90,165.45 L434.87,165.42 L435.83,165.39 L436.80,165.37 L437.76,165.34 L438.72,165.31 L439.69,165.29 L440.65,165.26 L441.62,165.24 L442.58,165.21 L443.55,165.18 L444.51,165.16 L445.47,165.13 L446.44,165.11 L447.40,165.08 L448.37,165.05 L449.33,165.03 L450.30,165.00 L451.26,164.98 L452.23,164.95 L453.19,164.92 L454.15,164.90 L455.12,164.87 L456.08,164.85 L457.05,164.82 L458.01,164.79 L458.98,164.77 L459.94,164.74 L460.91,164.72 L461.87,164.69 L462.83,164.66 L463.80,164.64 L464.76,164.61 L465.73,164.59 L466.69,164.56 L467.66,164.54 L468.62,164.51 L469.58,164.49 L470.55,164.47 L471.51,164.44 L472.48,164.42 L473.44,164.40 L474.41,164.37 L475.37,164.35 L476.34,164.33 L477.30,164.31 L478.26,164.29 L479.23,164.27 L480.19,164.25 L481.16,164.23 L482.12,164.21 L483.09,164.19 L484.05,164.17 L485.02,164.16 L485.98,164.14 L486.94,164.13 L487.91,164.11 L488.87,164.10 L489.84,164.08 L490.80,164.07 L491.77,164.06 L492.73,164.05 L493.69,164.04 L494.66,164.03 L495.62,164.02 L496.59,164.02 L497.55,164.01 L498.52,164.01 L499.48,164.00 L500.45,164.00 L501.41,164.00 L502.37,163.99 L503.34,163.99 L504.30,164.00 L505.27,164.00 L506.23,164.00 L507.20,164.01 L508.16,164.01 L509.13,164.02 L510.09,164.02 L511.05,164.02 L512.02,164.03 L512.98,164.03 L513.95,164.03 L514.91,164.02 L515.88,164.02 L516.84,164.01 L517.81,163.99 L518.77,163.97 L519.73,163.95 L520.70,163.92 L521.66,163.89 L522.63,163.84 L523.59,163.80 L524.56,163.74 L525.52,163.68 L526.48,163.61 L527.45,163.53 L528.41,163.45 L529.38,163.35 L530.34,163.24 L531.31,163.13 L532.27,163.00 L533.24,162.86 L534.20,162.71 L535.16,162.55 L536.13,162.38 L537.09,162.19 L538.06,161.99 L539.02,161.78 L539.99,161.55 L540.95,161.31 L541.92,161.05 L542.88,160.78 L543.84,160.49 L544.81,160.18 L545.77,159.86 L546.74,159.52 L547.70,159.16 L548.67,158.79 L549.63,158.39 L550.59,157.98 L551.56,157.55 L552.52,157.09 L553.49,156.62 L554.45,156.13 L555.42,155.61 L556.38,155.08 L557.35,154.52 L558.31,153.95 L559.27,153.36 L560.24,152.75 L561.20,152.12 L562.17,151.47 L563.13,150.81 L564.10,150.12 L565.06,149.43 L566.03,148.71 L566.99,147.98 L567.95,147.24 L568.92,146.48 L569.88,145.71 L570.85,144.92 L571.81,144.12 L572.78,143.30 L573.74,142.48 L574.70,141.64 L575.67,140.79 L576.63,139.93 L577.60,139.05 L578.56,138.17 L579.53,137.28 L580.49,136.37 L581.46,135.46 L582.42,134.54 L583.38,133.61 L584.35,132.67 L585.31,131.72 L586.28,130.77 L587.24,129.81 L588.21,128.85 L589.17,127.88 L590.14,126.90 L591.10,125.92 L592.06,124.93 L593.03,123.94 L593.99,122.94 L594.96,121.95 L595.92,120.94 L596.89,119.94 L597.85,118.94 L598.82,117.93 L599.78,116.92 L600.74,115.91 L601.71,114.90" fill="none" stroke="#1a04f3" stroke-width="2.40" stroke-linejoin="round" stroke-linecap="butt"/>
<rect x="403.79" y="160.10" width="12.00" height="12.00" fill="#1a04f3"/>
<rect x="451.77" y="158.80" width="12.00" height="12.00" fill="#1a04f3"/>
<rect x="499.75" y="158.00" width="12.00" height="12.00" fill="#1a04f3"/>
<rect x="547.73" y="150.50" width="12.00" height="12.00" fill="#1a04f3"/>
<rect x="595.71" y="108.90" width="12.00" height="12.00" fill="#1a04f3"/>
<path d="M390.60,209.30 L391.76,209.26 L392.91,209.21 L394.07,209.17 L395.23,209.12 L396.39,209.08 L397.54,209.03 L398.70,208.99 L399.86,208.94 L401.02,208.89 L402.17,208.84 L403.33,208.79 L404.49,208.74 L405.64,208.69 L406.80,208.64 L407.96,208.59 L409.12,208.53 L410.27,208.48 L411.43,208.42 L412.59,208.36 L413.75,208.30 L414.90,208.24 L416.06,208.18 L417.22,208.11 L418.37,208.05 L419.53,207.98 L420.69,207.92 L421.85,207.85 L423.00,207.79 L424.16,207.72 L425.32,207.66 L426.48,207.59 L427.63,207.52 L428.79,207.46 L429.95,207.39 L431.11,207.33 L432.26,207.27 L433.42,207.20 L434.58,207.14 L435.73,207.08 L436.89,207.02 L438.05,206.97 L439.21,206.91 L440.36,206.85 L441.52,206.80 L442.68,206.75 L443.84,206.70 L444.99,206.65 L446.15,206.61 L447.31,206.56 L448.46,206.52 L449.62,206.49 L450.78,206.45 L451.94,206.42 L453.09,206.39 L454.25,206.36 L455.41,206.34 L456.57,206.32 L457.72,206.30 L458.88,206.29 L460.04,206.28 L461.19,206.27 L462.35,206.27 L463.51,206.26 L464.67,206.27 L465.82,206.27 L466.98,206.28 L468.14,206.29 L469.30,206.30 L470.45,206.31 L471.61,206.32 L472.77,206.34 L473.92,206.36 L475.08,206.38 L476.24,206.40 L477.40,206.42 L478.55,206.44 L479.71,206.46 L480.87,206.48 L482.03,206.51 L483.18,206.53 L484.34,206.56 L485.50,206.58 L486.65,206.60 L487.81,206.62 L488.97,206.65 L490.13,206.67 L491.28,206.69 L492.44,206.71 L493.60,206.73 L494.76,206.74 L495.91,206.76 L497.07,206.77 L498.23,206.78 L499.38,206.79 L500.54,206.80 L501.70,206.80 L502.86,206.81 L504.01,206.81 L505.17,206.80 L506.33,206.80 L507.49,206.79 L508.64,206.78 L509.80,206.76 L510.96,206.74 L512.12,206.72 L513.27,206.70 L514.43,206.68 L515.59,206.65 L516.74,206.62 L517.90,206.59 L519.06,206.55 L520.22,206.52 L521.37,206.48 L522.53,206.44 L523.69,206.40 L524.85,206.36 L526.00,206.32 L527.16,206.27 L528.32,206.22 L529.47,206.18 L530.63,206.13 L531.79,206.08 L532.95,206.03 L534.10,205.98 L535.26,205.93 L536.42,205.88 L537.58,205.82 L538.73,205.77 L539.89,205.72 L541.05,205.66 L542.20,205.61 L543.36,205.56 L544.52,205.50 L545.68,205.45 L546.83,205.40 L547.99,205.35 L549.15,205.30 L550.31,205.25 L551.46,205.20 L552.62,205.15 L553.78,205.10 L554.93,205.05 L556.09,205.00 L557.25,204.96 L558.41,204.92 L559.56,204.87 L560.72,204.83 L561.88,204.79 L563.04,204.75 L564.19,204.71 L565.35,204.67 L566.51,204.63 L567.66,204.60 L568.82,204.56 L569.98,204.52 L571.14,204.49 L572.29,204.46 L573.45,204.42 L574.61,204.39 L575.77,204.36 L576.92,204.33 L578.08,204.30 L579.24,204.27 L580.39,204.24 L581.55,204.21 L582.71,204.18 L583.87,204.16 L585.02,204.13 L586.18,204.11 L587.34,204.08 L588.50,204.06 L589.65,204.03 L590.81,204.01 L591.97,203.98 L593.13,203.96 L594.28,203.94 L595.44,203.92 L596.60,203.90 L597.75,203.87 L598.91,203.85 L600.07,203.83 L601.23,203.81 L602.38,203.79 L603.54,203.77 L604.70,203.75 L605.86,203.73 L607.01,203.72 L608.17,203.70 L609.33,203.68 L610.48,203.66 L611.64,203.64 L612.80,203.62 L613.96,203.61 L615.11,203.59 L616.27,203.57 L617.43,203.55 L618.59,203.54 L619.74,203.52 L620.90,203.50" fill="none" stroke="#cc1a1f" stroke-width="2.40" stroke-linejoin="round" stroke-linecap="butt"/>
<rect x="403.79" y="202.50" width="12.00" height="12.00" fill="#cc1a1f"/>
<rect x="451.77" y="200.30" width="12.00" height="12.00" fill="#cc1a1f"/>
<rect x="499.75" y="200.80" width="12.00" height="12.00" fill="#cc1a1f"/>
<rect x="547.73" y="199.10" width="12.00" height="12.00" fill="#cc1a1f"/>
<line x1="390.60" y1="232.30" x2="620.90" y2="232.30" stroke="#1a04f3" stroke-width="2.60"/>
<rect x="403.79" y="226.50" width="12.00" height="12.00" fill="#1a04f3"/>
<rect x="451.77" y="226.50" width="12.00" height="12.00" fill="#1a04f3"/>
<rect x="499.75" y="226.50" width="12.00" height="12.00" fill="#1a04f3"/>
<rect x="547.73" y="226.50" width="12.00" height="12.00" fill="#1a04f3"/>
<rect x="390.60" y="48.00" width="230.30" height="56.40" fill="none" stroke="#000" stroke-opacity="0.85" stroke-width="1.2"/>
<rect x="390.60" y="113.30" width="230.30" height="56.70" fill="none" stroke="#000" stroke-opacity="0.85" stroke-width="1.2"/>
<rect x="390.60" y="176.30" width="230.30" height="56.10" fill="none" stroke="#000" stroke-opacity="0.85" stroke-width="1.2"/>
<line x1="390.60" y1="232.30" x2="620.90" y2="232.30" stroke="#1a04f3" stroke-width="2.60"/>
<line x1="390.60" y1="232.50" x2="620.90" y2="232.50" stroke="#12006a" stroke-width="1.00"/>
<rect x="403.79" y="226.50" width="12.00" height="12.00" fill="#1a04f3"/>
<rect x="451.77" y="226.50" width="12.00" height="12.00" fill="#1a04f3"/>
<rect x="499.75" y="226.50" width="12.00" height="12.00" fill="#1a04f3"/>
<rect x="547.73" y="226.50" width="12.00" height="12.00" fill="#1a04f3"/>
</svg></body></html>
